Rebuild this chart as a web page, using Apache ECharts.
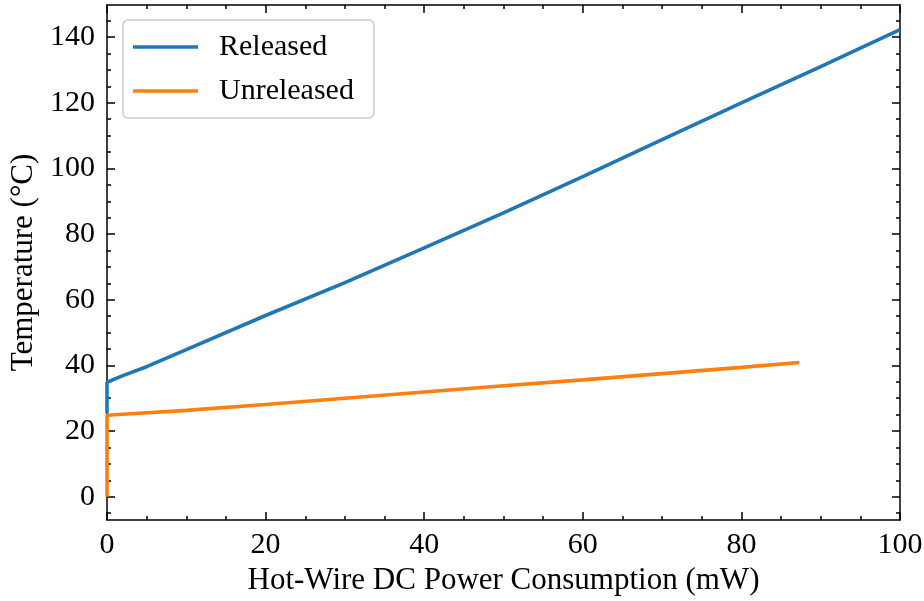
<!DOCTYPE html>
<html>
<head>
<meta charset="utf-8">
<script src="https://cdn.jsdelivr.net/npm/echarts@6/dist/echarts.min.js"></script>
<style>
  html, body { margin: 0; padding: 0; background: #ffffff; }
  #chart { width: 924px; height: 601px; }
</style>
</head>
<body>
<div id="chart"></div>
<script>
// Hot-wire temperature vs. DC power, released and unreleased wire
const releasedPower = [0, 0, 1, 2, 5, 10, 20, 30, 40, 50, 60, 70, 80, 90, 100];
const releasedTemp = [25.5, 34.8, 35.9, 36.9, 39.6, 44.8, 55.2, 65.2, 75.8, 86.5, 97.5, 108.8, 120.0, 131.0, 142.3];
const unreleasedPower = [0, 0, 2, 10, 20, 30, 40, 50, 60, 70, 80, 87.3];
const unreleasedTemp = [0, 24.8, 25.1, 26.3, 28.1, 30.0, 31.9, 33.8, 35.6, 37.5, 39.4, 40.9];

const yMajorTicks = [0, 20, 40, 60, 80, 100, 120, 140];
const yMinorTicks = [-5, 5, 10, 15, 25, 30, 35, 45, 50, 55, 65, 70, 75, 85, 90, 95, 105, 110, 115, 125, 130, 135, 145];

const Y_MIN = -7.1, Y_MAX = 149.8;
const FONT = 'Liberation Serif';
const FS = 30;
const TITLE_FS = 31;
const AXIS_W = 1.5;

const pairs = (xs, ys) => xs.map((x, i) => [x, ys[i]]);

function yAxisCopy(position, ticks, len, labels, line) {
  return {
    type: 'value', position, min: Y_MIN, max: Y_MAX,
    splitLine: { show: false },
    axisLine: { show: line, lineStyle: { color: '#000', width: AXIS_W } },
    axisTick: { show: true, inside: true, length: len, customValues: ticks,
                lineStyle: { color: '#000', width: AXIS_W } },
    axisLabel: labels ? { show: true, customValues: yMajorTicks, margin: 12,
                          color: '#000', fontFamily: FONT, fontSize: FS }
                      : { show: false }
  };
}

function xAxisCopy(position, labels) {
  return {
    type: 'value', position, min: 0, max: 100, interval: 20,
    splitLine: { show: false },
    minorTick: { show: true, splitNumber: 4, length: 4,
                 lineStyle: { color: '#000', width: AXIS_W } },
    minorSplitLine: { show: false },
    axisLine: { show: true, onZero: false, lineStyle: { color: '#000', width: AXIS_W } },
    axisTick: { show: true, inside: true, length: 8,
                lineStyle: { color: '#000', width: AXIS_W } },
    axisLabel: labels ? { show: true, margin: 10, color: '#000', fontFamily: FONT, fontSize: FS }
                      : { show: false }
  };
}

const xBottom = xAxisCopy('bottom', true);
xBottom.name = 'Hot-Wire DC Power Consumption (mW)';
xBottom.nameLocation = 'middle';
xBottom.nameGap = 44;
xBottom.nameTextStyle = { color: '#000', fontFamily: FONT, fontSize: TITLE_FS };

const yLeft = yAxisCopy('left', yMajorTicks, 8, true, true);
yLeft.name = 'Temperature (°C)';
yLeft.nameLocation = 'middle';
yLeft.nameGap = 58;
yLeft.nameTextStyle = { color: '#000', fontFamily: FONT, fontSize: TITLE_FS };

const chart = echarts.init(document.getElementById('chart'), null, { renderer: 'canvas' });
chart.setOption({
  animation: false,
  backgroundColor: '#ffffff',
  grid: { left: 107, right: 24, top: 5, bottom: 81, containLabel: false, outerBoundsMode: 'none' },
  xAxis: [xBottom, xAxisCopy('top', false)],
  yAxis: [
    yLeft,
    yAxisCopy('left', yMinorTicks, 4, false, false),
    yAxisCopy('right', yMajorTicks, 8, false, true),
    yAxisCopy('right', yMinorTicks, 4, false, false)
  ],
  legend: {
    left: 123, top: 20, orient: 'vertical',
    itemWidth: 65, itemHeight: 3.5, itemGap: 14,
    padding: [12, 20, 12, 10],
    backgroundColor: 'rgba(255,255,255,0.8)',
    borderColor: '#cccccc', borderWidth: 1.5, borderRadius: 5,
    textStyle: { color: '#000', fontFamily: FONT, fontSize: FS, lineHeight: 30, padding: [0, 0, 0, 16] },
    data: [
      { name: 'Released', icon: 'rect', itemStyle: { color: '#1f77b4' } },
      { name: 'Unreleased', icon: 'rect', itemStyle: { color: '#ff7f0e' } }
    ]
  },
  series: [
    {
      name: 'Released', type: 'line', xAxisIndex: 0, yAxisIndex: 0,
      data: pairs(releasedPower, releasedTemp),
      showSymbol: false, symbol: 'none', smooth: false,
      lineStyle: { color: '#1f77b4', width: 3.6 }, itemStyle: { color: '#1f77b4' }
    },
    {
      name: 'Unreleased', type: 'line', xAxisIndex: 0, yAxisIndex: 0,
      data: pairs(unreleasedPower, unreleasedTemp),
      showSymbol: false, symbol: 'none', smooth: false,
      lineStyle: { color: '#ff7f0e', width: 3.6 }, itemStyle: { color: '#ff7f0e' }
    }
  ]
});
</script>
</body>
</html>
